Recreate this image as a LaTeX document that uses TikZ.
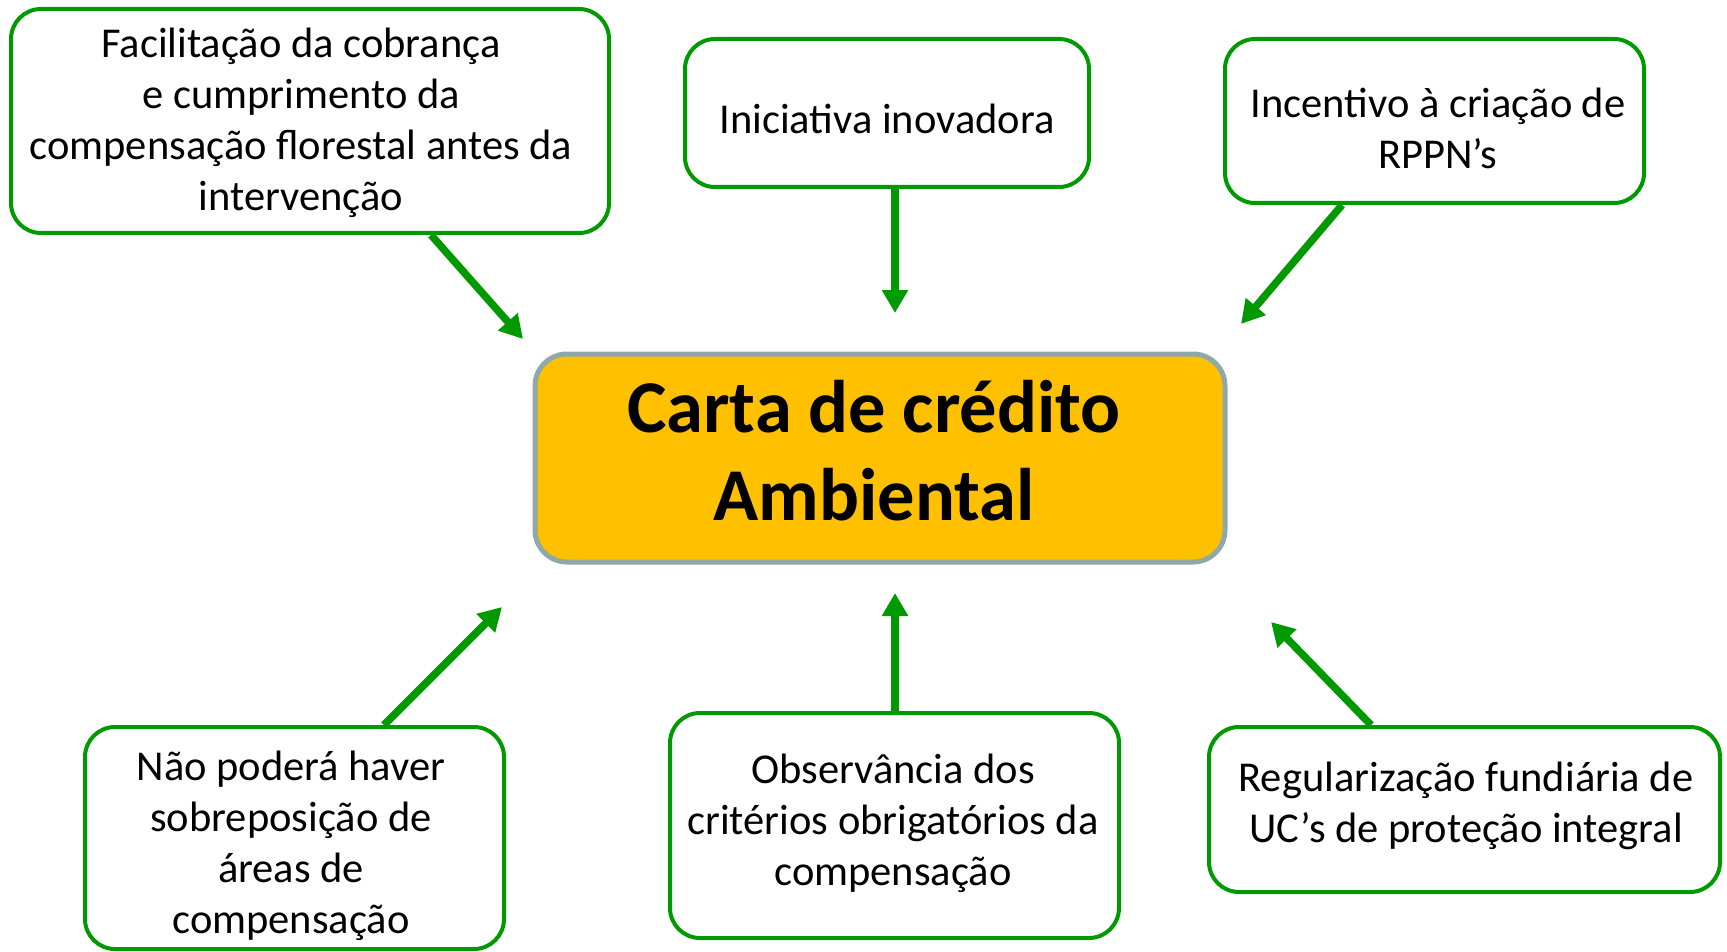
\documentclass[tikz,border=0pt]{standalone}
\usepackage{fontspec}
\setmainfont{Carlito}
\usetikzlibrary{arrows.meta}
\definecolor{grn}{HTML}{009A00}
\definecolor{gold}{HTML}{FFC000}
\definecolor{edge}{HTML}{8FA8AA}
\tikzset{
  box/.style={draw=grn, line width=4pt, rounded corners=30pt, fill=white, inner sep=0pt},
  txt/.style={align=center, font=\fontsize{42.5}{51}\selectfont, inner sep=0pt},
  main/.style={draw=edge, line width=5pt, rounded corners=32pt, fill=gold, inner sep=0pt},
  maintxt/.style={align=center, font=\fontsize{74.5}{88}\selectfont\bfseries, inner sep=0pt},
  arr/.style={draw=grn, line width=7.5pt, -{Triangle[length=23pt,width=25pt]}}
}
\begin{document}
\begin{tikzpicture}[x=1pt,y=-1pt]
\useasboundingbox (0,0) rectangle (1727,952);
\node[main, minimum width=690pt, minimum height=208pt] (c) at (880,458) {};
\node[maintxt] (ct) at (874,451) {Carta de crédito\\Ambiental};
\node[box, minimum width=598pt, minimum height=224pt] (b1) at (310,121) {};
\node[txt] (b1t) at (301,123) {Facilitação da cobrança\\e cumprimento da\\compensação florestal antes da\\intervenção};
\node[box, minimum width=404pt, minimum height=148pt] (b2) at (887,113) {};
\node[txt] (b2t) at (887,118.5) {Iniciativa inovadora};
\node[box, minimum width=419pt, minimum height=164pt] (b3) at (1434.5,121) {};
\node[txt] (b3t) at (1438,128) {Incentivo à criação de\\RPPN’s};
\node[box, minimum width=419pt, minimum height=222pt] (b4) at (294.5,838) {};
\node[txt] (b4t) at (291,846) {Não poderá haver\\sobreposição de\\áreas de\\compensação};
\node[box, minimum width=449pt, minimum height=225pt] (b5) at (894.5,825.5) {};
\node[txt] (b5t) at (893,823.5) {Observância dos\\critérios obrigatórios da\\compensação};
\node[box, minimum width=511pt, minimum height=165pt] (b6) at (1464.5,809.5) {};
\node[txt] (b6t) at (1466,805.5) {Regularização fundiária de\\UC’s de proteção integral};
\coordinate (s1) at (431,233);
\coordinate (t1) at (523,339);
\coordinate (s2) at (895,187);
\coordinate (t2) at (895,313);
\coordinate (s3) at (1342,203);
\coordinate (t3) at (1241,324);
\coordinate (s4) at (384,727);
\coordinate (t4) at (502,607);
\coordinate (s5) at (895,713);
\coordinate (t5) at (895,593);
\coordinate (s6) at (1371,727);
\coordinate (t6) at (1271,622);
\draw[arr] (b1.south -| s1) -- (t1);
\draw[arr] (b2.south -| s2) -- (t2);
\draw[arr] (b3.south -| s3) -- (t3);
\draw[arr] (b4.north -| s4) -- (t4);
\draw[arr] (b5.north -| s5) -- (t5);
\draw[arr] (b6.north -| s6) -- (t6);
\end{tikzpicture}
\end{document}
